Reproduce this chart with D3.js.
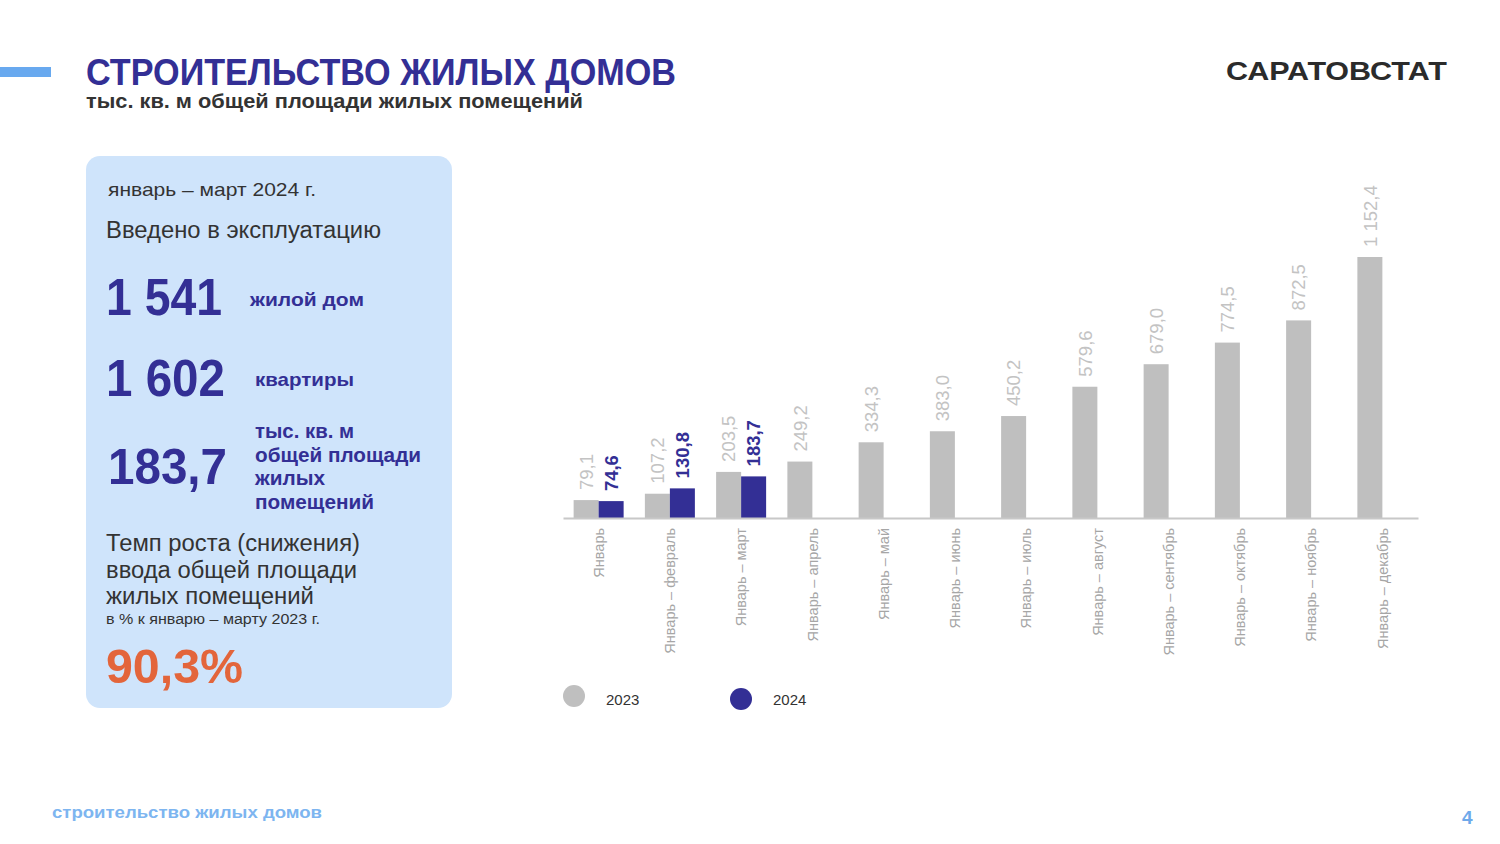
<!DOCTYPE html>
<html><head><meta charset="utf-8">
<script src="https://cdn.jsdelivr.net/npm/d3@7"></script>
<style>
html,body{margin:0;padding:0;background:#fff;}
svg{display:block;font-family:"Liberation Sans",Arial,sans-serif;}
</style></head>
<body>
<svg id="c" width="1500" height="844"></svg>
<script>
const categories = ["Январь","Январь – февраль","Январь – март","Январь – апрель","Январь – май","Январь – июнь","Январь – июль","Январь – август","Январь – сентябрь","Январь – октябрь","Январь – ноябрь","Январь – декабрь"];
const values2023 = [79.1,107.2,203.5,249.2,334.3,383.0,450.2,579.6,679.0,774.5,872.5,1152.4];
const values2024 = [74.6,130.8,183.7];
const seriesNames = ["2023","2024"];
const kpiHouses = "1 541";
const kpiFlats = "1 602";
const kpiArea = "183,7";
const kpiRate = "90,3%";

const INDIGO = "#332f95", GRAY = "#bfbfbf";
const svg = d3.select("#c");
const loc = d3.formatLocale({decimal:",", thousands:"\u00a0", grouping:[3], currency:["",""]});
const fmt = loc.format(",.1f");

// header
svg.append("rect").attr("x",0).attr("y",67).attr("width",51).attr("height",10).attr("fill","#68a9ef");
svg.append("text").attr("x",86).attr("y",85).attr("font-size",37).attr("font-weight","bold").attr("fill",INDIGO)
  .attr("textLength",590).attr("lengthAdjust","spacingAndGlyphs").text("СТРОИТЕЛЬСТВО ЖИЛЫХ ДОМОВ");
svg.append("text").attr("x",86).attr("y",108).attr("font-size",20).attr("font-weight","bold").attr("fill","#333")
  .attr("textLength",497).attr("lengthAdjust","spacingAndGlyphs").text("тыс. кв. м общей площади жилых помещений");
svg.append("text").attr("x",1226).attr("y",80).attr("font-size",25).attr("font-weight","bold").attr("fill","#2b2b2b")
  .attr("textLength",221).attr("lengthAdjust","spacingAndGlyphs").text("САРАТОВСТАТ");

// left panel
svg.append("rect").attr("x",86).attr("y",156).attr("width",366).attr("height",552).attr("rx",14).attr("fill","#cfe4fb");
const t = (x,y,s,txt,o={})=>{
  const e = svg.append("text").attr("x",x).attr("y",y).attr("font-size",s).attr("fill",o.fill||"#333")
   .attr("font-weight",o.bold?"bold":"normal").text(txt);
  if(o.len) e.attr("textLength",o.len).attr("lengthAdjust","spacingAndGlyphs");
  return e;
};
t(108,196,19,"январь – март  2024 г.",{len:208});
t(106,238,23,"Введено в эксплуатацию",{len:275});
t(106,315,52,kpiHouses,{bold:true,fill:INDIGO,len:116});
t(250,306,19,"жилой дом",{bold:true,fill:INDIGO,len:114});
t(106,396,52,kpiFlats,{bold:true,fill:INDIGO,len:119});
t(255,386,19,"квартиры",{bold:true,fill:INDIGO,len:99});
t(108,484,50,kpiArea,{bold:true,fill:INDIGO,len:119});
t(255,438,20,"тыс. кв. м",{bold:true,fill:INDIGO,len:99});
t(255,462,20,"общей площади",{bold:true,fill:INDIGO,len:166});
t(255,485,20,"жилых",{bold:true,fill:INDIGO,len:70});
t(255,509,20,"помещений",{bold:true,fill:INDIGO,len:119});
t(106,551,23,"Темп роста (снижения)",{len:254});
t(106,578,23,"ввода общей площади",{len:251});
t(106,604,23,"жилых помещений",{len:208});
t(106,624,14,"в % к  январю – марту  2023 г.",{len:214});
t(106,683,48,kpiRate,{bold:true,fill:"#e3653b",len:137});

// chart
const y0 = 518;
const y = d3.scaleLinear().domain([0,1152.4]).range([y0,257]);
const x0 = d3.scaleBand().domain(categories).range([563,1418]).padding(0);
const x1 = d3.scaleBand().domain(seriesNames).range([-25,25]);
const cx = c => x0(c)+x0.bandwidth()/2;

const rows = categories.map((c,i)=>({c, v:[values2023[i], values2024[i]]}));
const g = svg.append("g");
rows.forEach(r=>{
  r.v.forEach((v,j)=>{
    if(v==null) return;
    const s = seriesNames[j];
    const bx = cx(r.c)+x1(s);
    g.append("rect").attr("x",bx).attr("y",y(v)).attr("width",x1.bandwidth()).attr("height",y0-y(v))
      .attr("fill", j===0?GRAY:INDIGO);
    const lx = bx + x1.bandwidth()/2, ly = y(v)-10;
    g.append("text").attr("transform",`translate(${lx},${ly}) rotate(-90)`).attr("dy","0.36em")
      .attr("font-size",18.5).attr("font-weight", j===0?"normal":"bold").attr("fill", j===0?"#c3c3c3":INDIGO)
      .attr("text-anchor","start").text(fmt(v));
  });
});
// axis
const ax = svg.append("g").attr("transform",`translate(0,${y0})`).call(d3.axisBottom(x0).tickSize(0).tickFormat(""));
ax.select(".domain").attr("stroke","#c8c8c8").attr("stroke-width",2);
categories.forEach(c=>{
  svg.append("text").attr("transform",`translate(${cx(c)},528) rotate(-90)`).attr("dy","0.36em")
    .attr("text-anchor","end").attr("font-size",14.5).attr("fill","#a6a6a6").text(c);
});

// legend
const leg = [{n:"2023",c:GRAY,x:574,y:696},{n:"2024",c:INDIGO,x:741,y:699}];
leg.forEach(l=>{
  svg.append("circle").attr("cx",l.x).attr("cy",l.y).attr("r",11).attr("fill",l.c);
  svg.append("text").attr("x",l.x+32).attr("y",705).attr("font-size",15).attr("fill","#333").text(l.n);
});

// footer
svg.append("text").attr("x",52).attr("y",818).attr("font-size",16).attr("font-weight","bold").attr("fill","#7db5f0")
  .attr("textLength",270).attr("lengthAdjust","spacingAndGlyphs").text("строительство жилых домов");
svg.append("text").attr("x",1462).attr("y",824).attr("font-size",19).attr("font-weight","bold").attr("fill","#6ea9ea").text("4");
</script>
</body></html>
